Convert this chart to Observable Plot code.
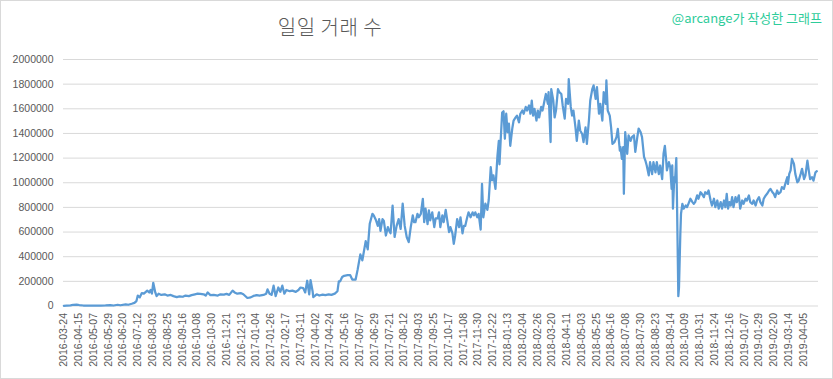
<!DOCTYPE html>
<html>
<head>
<meta charset="utf-8">
<script src="https://cdn.jsdelivr.net/npm/d3@7"></script>
<script src="https://cdn.jsdelivr.net/npm/@observablehq/plot@0.6"></script>
<style>
  body { margin: 0; background: #fff; }
  #chart { position: relative; width: 833px; height: 379px; box-sizing: border-box; border: 1px solid #d9d9d9; background: #fff; overflow: hidden; }
  #head { position: relative; height: 44px; }
  #title { position: absolute; left: 229px; width: 200px; top: 14px; text-align: center; font-family: "Noto Sans CJK KR", sans-serif; font-size: 20px; line-height: 24px; color: #595959; font-weight: 300; letter-spacing: 0.5px; }
  #mark { position: absolute; right: 10px; top: 9px; font-family: "Noto Sans CJK KR", sans-serif; font-size: 13px; line-height: 16px; color: #2ecc9a; white-space: nowrap; }
  svg { display: block; }
</style>
</head>
<body>
<div id="chart">
  <div id="head">
    <div id="title">일일 거래 수</div>
    <div id="mark">@arcange가 작성한 그래프</div>
  </div>
</div>
<script>
// x-axis category labels (every 22nd category)
const tickLabels = ["2016-03-24","2016-04-15","2016-05-07","2016-05-29","2016-06-20","2016-07-12","2016-08-03","2016-08-25","2016-09-16","2016-10-08","2016-10-30","2016-11-21","2016-12-13","2017-01-04","2017-01-26","2017-02-17","2017-03-11","2017-04-02","2017-04-24","2017-05-16","2017-06-07","2017-06-29","2017-07-21","2017-08-12","2017-09-03","2017-09-25","2017-10-17","2017-11-08","2017-11-30","2017-12-22","2018-01-13","2018-02-04","2018-02-26","2018-03-20","2018-04-11","2018-05-03","2018-05-25","2018-06-16","2018-07-08","2018-07-30","2018-08-23","2018-09-14","2018-10-09","2018-10-31","2018-11-24","2018-12-16","2019-01-07","2019-01-29","2019-02-20","2019-03-14","2019-04-05"];
const tickStep = 22;
const categoryCount = 1123;
const yTicks = [0,200000,400000,600000,800000,1000000,1200000,1400000,1600000,1800000,2000000];

// category index (day number along the axis) of each sampled point
const dayIndex = [0,4,10,14,19,23,29,40,55,62,69,74,80,84,92,96,101,105,108,110,113,116,119,122,124,127,129,131,133,136,138,141,145,150,154,159,163,168,172,177,181,186,190,195,199,203,208,211,214,218,223,229,233,238,242,246,251,254,258,263,267,273,278,282,287,291,297,301,303,306,309,312,315,319,322,325,328,331,336,340,345,349,352,356,359,362,365,367,370,371,376,380,385,389,394,398,403,407,409,411,414,417,422,426,429,434,437,441,444,449,452,455,459,461,464,467,469,471,474,476,479,482,484,486,489,492,495,498,501,504,507,510,513,516,519,521,523,526,528,531,534,536,538,541,543,545,548,551,553,556,558,560,563,565,568,571,573,575,578,580,582,585,588,590,593,595,597,600,602,605,608,610,612,615,617,620,622,624,627,630,632,635,637,639,642,645,647,648,650,652,654,656,658,660,662,664,667,669,672,674,677,679,682,684,687,689,692,694,696,698,700,703,705,707,710,712,715,717,720,721,724,725,728,730,732,735,737,740,742,745,747,750,751,754,756,758,761,763,766,768,771,773,776,778,781,783,786,788,791,793,796,798,801,803,806,807,809,812,814,816,819,822,824,827,828,830,832,833,835,838,840,843,845,848,850,853,855,858,860,863,865,867,870,872,875,877,880,882,885,887,890,892,894,896,897,900,902,904,905,906,908,909,911,912,914,915,917,918,920,922,925,927,929,932,935,937,939,942,944,947,949,952,954,957,959,962,964,967,969,972,974,977,979,982,984,986,988,990,992,994,996,999,1001,1004,1006,1009,1011,1014,1016,1019,1021,1024,1026,1029,1031,1034,1036,1039,1041,1044,1046,1049,1051,1054,1056,1058,1061,1063,1066,1068,1071,1073,1076,1077,1079,1081,1083,1086,1088,1091,1093,1096,1098,1101,1103,1106,1108,1110,1113,1115,1118,1120];

// daily transaction counts
const dailyTrades = [2000,3000,5000,10000,12000,8000,4000,3000,3000,5000,8000,4000,10000,6000,14000,10000,18000,25000,40000,85000,70000,105000,100000,115000,125000,110000,130000,100000,188000,110000,80000,100000,90000,95000,85000,90000,80000,72000,78000,75000,85000,80000,88000,95000,100000,99000,95000,85000,110000,88000,90000,85000,95000,92000,98000,90000,125000,110000,100000,105000,95000,65000,70000,82000,88000,85000,90000,100000,135000,100000,90000,165000,80000,150000,115000,165000,100000,130000,120000,125000,115000,130000,150000,145000,110000,205000,95000,210000,120000,72000,95000,85000,92000,88000,95000,90000,100000,120000,200000,200000,235000,245000,250000,250000,215000,215000,295000,418000,370000,526000,460000,667000,748000,735000,700000,650000,705000,610000,705000,690000,572000,640000,610000,590000,815000,560000,650000,705000,625000,830000,650000,560000,518000,640000,735000,680000,680000,748000,720000,748000,870000,680000,790000,665000,775000,695000,760000,640000,710000,710000,760000,640000,735000,680000,780000,670000,600000,640000,590000,505000,570000,705000,640000,720000,590000,650000,650000,720000,760000,720000,760000,735000,760000,720000,748000,620000,990000,720000,830000,780000,860000,1126000,1020000,1060000,950000,1220000,1340000,1150000,1370000,1570000,1580000,1357000,1560000,1410000,1480000,1300000,1440000,1505000,1530000,1545000,1490000,1560000,1586000,1560000,1615000,1586000,1627000,1560000,1667000,1545000,1600000,1505000,1586000,1530000,1615000,1586000,1667000,1720000,1640000,1735000,1330000,1760000,1667000,1530000,1586000,1760000,1735000,1720000,1627000,1520000,1680000,1640000,1840000,1615000,1545000,1586000,1450000,1340000,1505000,1424000,1396000,1330000,1450000,1315000,1505000,1667000,1760000,1790000,1680000,1775000,1560000,1640000,1505000,1735000,1640000,1830000,1586000,1545000,1450000,1316000,1330000,1370000,1437000,1260000,1290000,1193000,1290000,910000,1410000,1235000,1385000,1340000,1370000,1385000,1250000,1370000,1440000,1410000,1370000,1210000,1180000,1140000,1060000,1167000,1070000,1167000,1085000,1167000,1070000,1140000,1030000,1235000,1300000,1180000,1100000,1167000,1126000,950000,1140000,790000,1045000,1005000,1200000,860000,80000,150000,586000,748000,829000,790000,815000,802000,829000,870000,843000,829000,843000,897000,870000,923000,910000,883000,923000,910000,937000,856000,815000,870000,802000,856000,790000,843000,790000,856000,802000,910000,790000,843000,815000,883000,802000,883000,843000,897000,790000,856000,829000,870000,856000,897000,843000,829000,856000,815000,856000,883000,843000,815000,870000,897000,910000,937000,950000,923000,910000,883000,937000,910000,923000,964000,950000,990000,1045000,990000,1072000,1100000,1193000,1153000,1072000,1004000,1017000,1072000,1113000,1030000,1058000,1180000,1100000,1030000,1045000,1017000,1085000,1094000];

const data = dayIndex.map((d, i) => ({day: d, trades: dailyTrades[i]}));
const tickIdx = tickLabels.map((_, k) => k * tickStep);

const chart = Plot.plot({
  width: 831,
  height: 333,
  marginTop: 14,
  marginBottom: 72.5,
  marginLeft: 62,
  marginRight: 14,
  style: {fontFamily: "'Liberation Sans', sans-serif", fontSize: "10.5px", color: "#595959", background: "transparent", overflow: "visible"},
  x: {type: "linear", domain: [-0.5, categoryCount - 0.5], label: null},
  y: {domain: [0, 2000000], label: null},
  marks: [
    Plot.gridY(yTicks, {stroke: "#d9d9d9", strokeOpacity: 1, strokeWidth: 1}),
    Plot.axisY(yTicks, {tickSize: 0, tickPadding: 10, tickFormat: d => String(d), label: null, fill: "#595959"}),
    Plot.axisX(tickIdx, {tickRotate: -90, tickSize: 0, tickPadding: 7, tickFormat: d => tickLabels[Math.round(d / tickStep)], label: null, fill: "#595959"}),
    Plot.line(data, {x: "day", y: "trades", stroke: "#5b9bd5", strokeWidth: 2.25, strokeLinejoin: "round", strokeLinecap: "round"})
  ]
});
document.getElementById("chart").appendChild(chart);
</script>
</body>
</html>
